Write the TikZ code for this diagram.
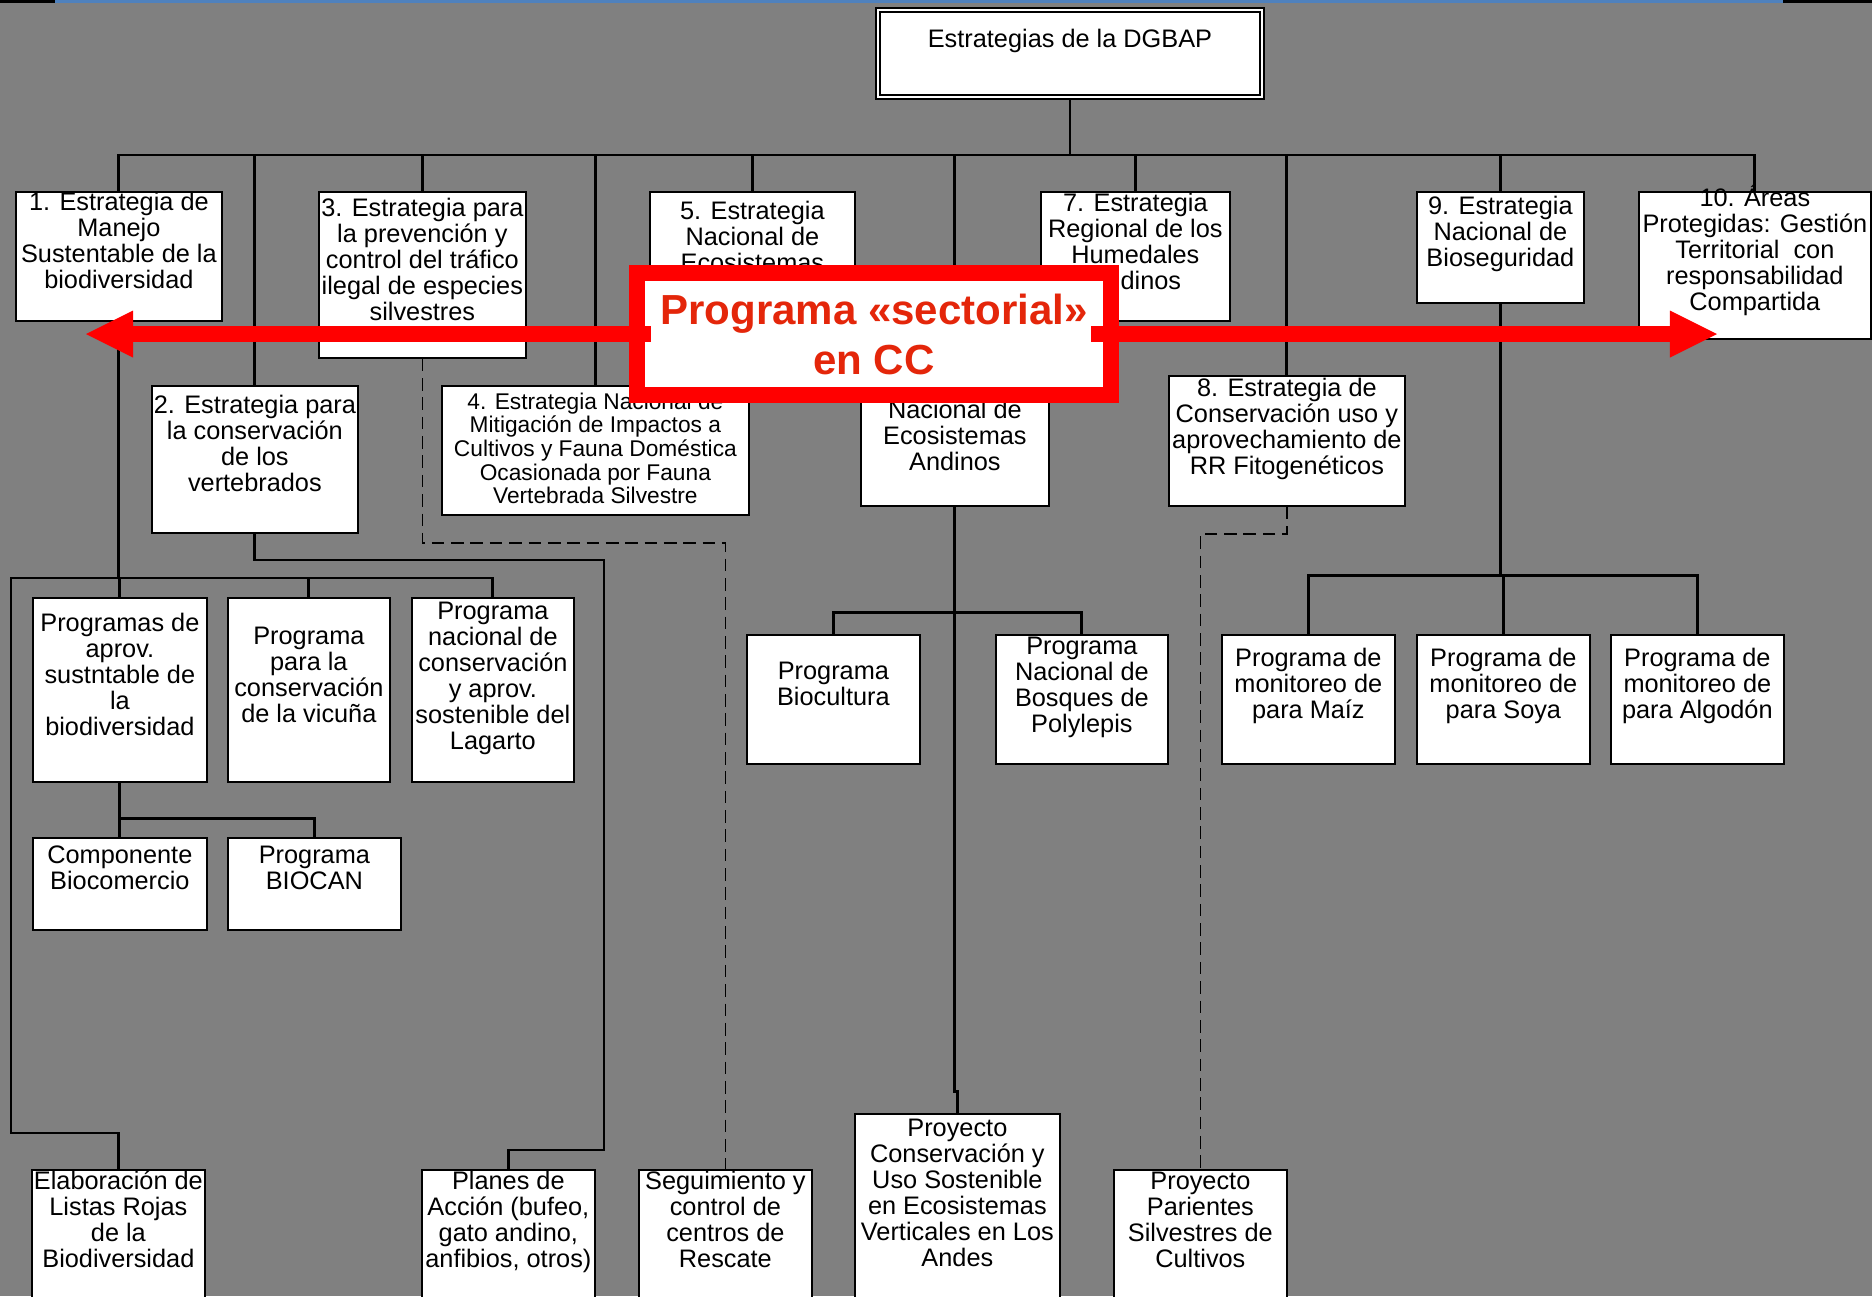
\documentclass[tikz,border=0pt]{standalone}
\usepackage{fontspec}
\setmainfont{Liberation Sans}
\usepackage{tikz}
\usetikzlibrary{arrows.meta,backgrounds,calc}
\definecolor{fondo}{RGB}{128,128,128}
\definecolor{azul}{RGB}{79,129,189}
\definecolor{rojo}{RGB}{255,0,0}
\definecolor{rojotexto}{RGB}{228,38,10}
\newlength{\px}
\setlength{\px}{0.01cm}
\newcommand{\celda}[4][0]{\parbox[t][#3\px][t]{#2\px}{\centering\lineskiplimit=-\maxdimen\vspace*{#1\px}\strut #4}}

\begin{document}
\begin{tikzpicture}[x=0.01cm,y=-0.01cm,
  caja/.style={draw,line width=0.5pt,fill=white,anchor=north west,inner sep=0pt,font=\fontsize{7.2}{7.4}\selectfont},
  chica/.style={font=\fontsize{6.46}{6.7}\selectfont},
  linea/.style={line width=0.8pt},
  guion/.style={line width=0.45pt,dash pattern=on 3.6pt off 1.9pt},
  marco/.style={draw=rojo,line width=0.16cm,fill=white,minimum width=4.74cm,minimum height=1.22cm,inner sep=0pt,align=center,text=rojotexto,font=\fontsize{11.95}{14.2}\selectfont\bfseries},
  flecha/.style={draw=rojo,line width=0.16cm,-{Triangle[length=0.47cm,width=0.47cm,line width=0pt]}}]
\useasboundingbox (0,0) rectangle (1872,1296);
\clip (0,0) rectangle (1872,1296);
\begin{scope}[on background layer]
\fill[fondo] (0,0) rectangle (1872,1296);
\fill[black] (0,0) rectangle (55,3);
\fill[azul] (55,0) rectangle (1783,3);
\fill[black] (1783,0) rectangle (1872,3);
\end{scope}

\node[caja,double,line width=0.55pt,double distance=0.55pt] (dgbap) at (877,9) {\celda[19]{384}{87}{Estrategias de la DGBAP}};

\node[caja] (e1) at (15,191) {\celda[0]{206}{129}{1. Estrategia de\\Manejo\\Sustentable de la\\biodiversidad}};
\node[caja] (e2) at (151,385) {\celda[9]{206}{147}{2. Estrategia para\\la conservación\\de los\\vertebrados}};
\node[caja] (e3) at (318,191) {\celda[6]{207}{166}{3. Estrategia para\\la prevención y\\control del tráfico\\ilegal de especies\\silvestres}};
\node[caja,chica] (e4) at (441,385) {\celda[7]{307}{129}{4. Estrategia Nacional de\\Mitigación de Impactos a\\Cultivos y Fauna Doméstica\\Ocasionada por Fauna\\Vertebrada Silvestre}};
\node[caja] (e5) at (649,191) {\celda[9]{205}{150}{5. Estrategia\\Nacional de\\Ecosistemas}};
\node[caja] (e6) at (860,375) {\celda[24]{188}{130}{Nacional de\\Ecosistemas\\Andinos}};
\node[caja] (e7) at (1040,191) {\celda[1]{189}{129}{7. Estrategia\\Regional de los\\Humedales\\Andinos}};
\node[caja] (e8) at (1168,375) {\celda[2]{236}{130}{8. Estrategia de\\Conservación uso y\\aprovechamiento de\\RR Fitogenéticos}};
\node[caja] (e9) at (1416,191) {\celda[4]{167}{111}{9. Estrategia\\Nacional de\\Bioseguridad}};
\node[caja] (e10) at (1638,191) {\celda[-7]{232}{147}{10. Áreas\\Protegidas: Gestión\\Territorial\ \ con\\responsabilidad\\Compartida}};

\node[caja] (pa) at (32,597) {\celda[15]{174}{184}{Programas de\\aprov.\\sustntable de\\la\\biodiversidad}};
\node[caja] (vic) at (227,597) {\celda[28]{162}{184}{Programa\\para la\\conservación\\de la vicuña}};
\node[caja] (lag) at (411,597) {\celda[3]{162}{184}{Programa\\nacional de\\conservación\\y aprov.\\sostenible del\\Lagarto}};
\node[caja] (com) at (32,837) {\celda[7]{174}{92}{Componente\\Biocomercio}};
\node[caja] (biocan) at (227,837) {\celda[7]{173}{92}{Programa\\BIOCAN}};
\node[caja] (biocult) at (746,634) {\celda[26]{173}{129}{Programa\\Biocultura}};
\node[caja] (poly) at (995,634) {\celda[1]{172}{129}{Programa\\Nacional de\\Bosques de\\Polylepis}};
\node[caja] (maiz) at (1221,634) {\celda[13]{173}{129}{Programa de\\monitoreo de\\para Maíz}};
\node[caja] (soya) at (1416,634) {\celda[13]{173}{129}{Programa de\\monitoreo de\\para Soya}};
\node[caja] (alg) at (1610,634) {\celda[13]{173}{129}{Programa de\\monitoreo de\\para Algodón}};

\node[caja] (ela) at (31,1169) {\celda[1]{173}{150}{Elaboración de\\Listas Rojas\\de la\\Biodiversidad}};
\node[caja] (pla) at (421,1169) {\celda[1]{173}{150}{Planes de\\Acción (bufeo,\\gato andino,\\anfibios, otros)}};
\node[caja] (seg) at (638,1169) {\celda[1]{173}{150}{Seguimiento y\\control de\\centros de\\Rescate}};
\node[caja] (pcv) at (854,1113) {\celda[4]{205}{200}{Proyecto\\Conservación y\\Uso Sostenible\\en Ecosistemas\\Verticales en Los\\Andes}};
\node[caja] (par) at (1113,1169) {\celda[1]{173}{150}{Proyecto\\Parientes\\Silvestres de\\Cultivos}};

\coordinate (j1) at (118,578);
\coordinate (q1) at (11,1133);
\coordinate (k1) at (604,560);
\coordinate (k2) at (604,1150);
\coordinate (izq) at (86,334);
\coordinate (der) at (1717,334);

\begin{scope}[on background layer]
\foreach \n in {e1,e2,e3,e4,e5,e6,e7,e8,e9,e10}
  \draw[linea] (dgbap.south) -- ++(0,57) -| (\n.north);
\draw[linea] (e1.south) |- (lag.north |- j1) -- (lag.north);
\draw[linea] (e1.south |- j1) -| (vic.north);
\draw[linea] (e1.south |- j1) -| (pa.north);
\draw[linea] (e1.south |- j1) -| (q1) -| (ela.north);
\draw[linea] (e2.south) |- (k1) -- (k2) -| (pla.north);
\draw[linea] (pa.south) -- (com.north);
\draw[linea] (pa.south) -- ++(0,36) -| (biocan.north);
\draw[guion] (e3.south) -- ++(0,184) -| (seg.north);
\draw[linea] (e6.south) -- ++(0,106) -| (biocult.north);
\draw[linea] (e6.south) -- ++(0,106) -| (poly.north);
\draw[linea] (e6.south) -- ++(0,585) -| (pcv.north);
\draw[guion] (e8.south) -- ++(0,27) -| (par.north);
\foreach \n in {maiz,soya,alg}
  \draw[linea] (e9.south) -- ++(0,272) -| (\n.north);
\end{scope}

\node[marco] (cc) at (874,334) {Programa «sectorial»\\en CC};
\draw[flecha] ([xshift=0.22cm]cc.west) -- (izq);
\draw[flecha] ([xshift=-0.28cm]cc.east) -- (der);
\end{tikzpicture}
\end{document}
